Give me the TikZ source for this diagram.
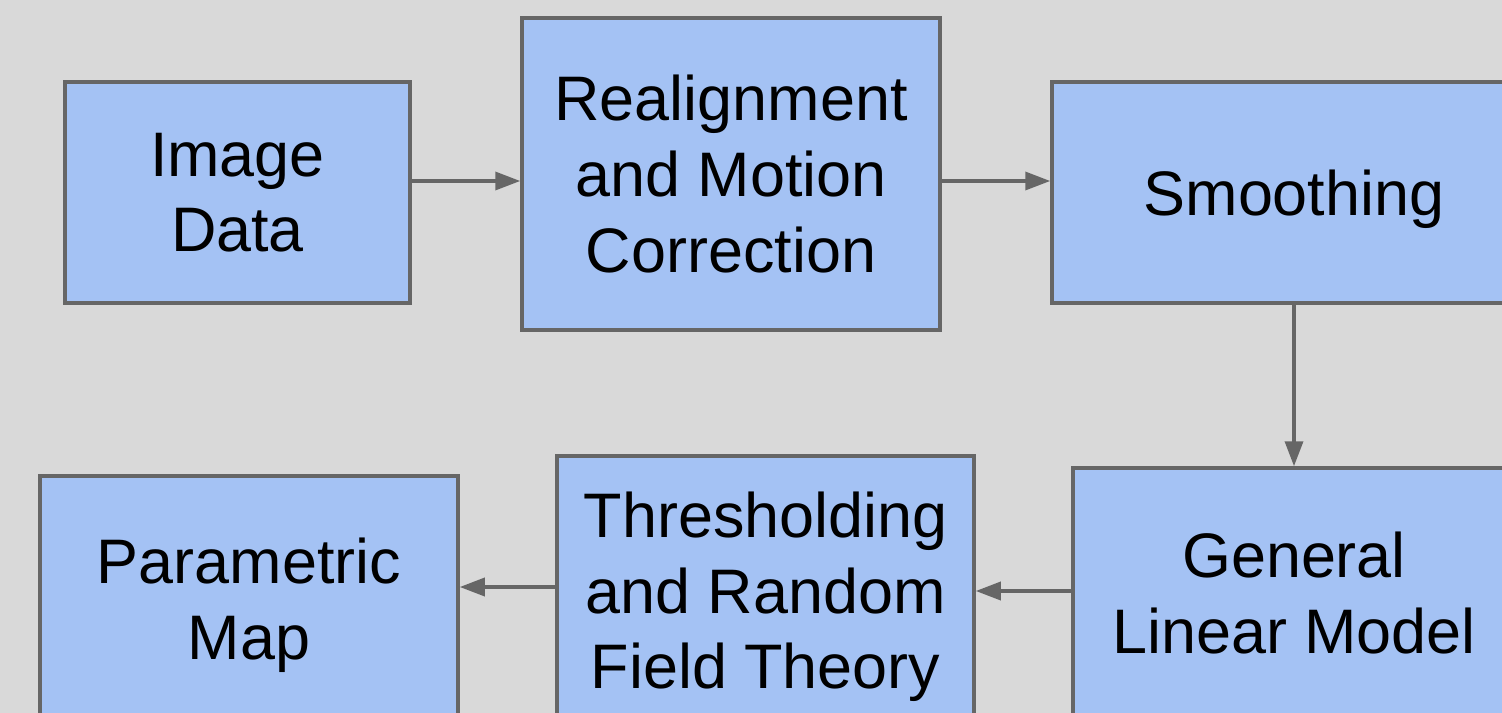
\documentclass[tikz,border=0pt]{standalone}
\usepackage{fontspec}
\setmainfont{Liberation Sans}
\usetikzlibrary{arrows.meta}

\definecolor{panelgray}{HTML}{D9D9D9}
\definecolor{stageblue}{HTML}{A4C2F4}
\definecolor{edgegray}{HTML}{666666}

\tikzset{
    stage box/.style={
        draw=edgegray,line width=2pt,
        fill=stageblue,
        align=center,inner sep=0pt,
        font=\fontsize{35.8}{43}\selectfont
    },
    flow/.style={
        draw=edgegray,line width=2pt,
        -{Triangle[length=0.5cm,width=0.36cm]}
    }
}

\begin{document}
\begin{tikzpicture}[x=0.02cm,y=-0.02cm]
        \fill[panelgray] (0,0) rectangle (1502,713);
        \useasboundingbox (0,0) rectangle (1502,713);
        % top row
        \node[stage box,minimum width=345*0.02cm,minimum height=221*0.02cm] (image) at (237.5,192.5) {Image\\Data};
        \node[stage box,minimum width=418*0.02cm,minimum height=312*0.02cm] (realign) at (731,174) {Realignment\\and Motion\\Correction};
        \node[stage box,minimum width=484*0.02cm,minimum height=221*0.02cm,text depth=0pt] (smooth) at (1294,192.5) {Smoothing};
        % bottom row
        \node[stage box,minimum width=442*0.02cm,minimum height=250*0.02cm] (glm) at (1294,593) {General\\Linear Model};
        \node[stage box,minimum width=417*0.02cm,minimum height=282*0.02cm] (thresh) at (765.5,597) {Thresholding\\and Random\\Field Theory};
        \node[stage box,minimum width=418*0.02cm,minimum height=258*0.02cm] (param) at (249,605) {Parametric\\Map};
        % connectors
        \draw[flow] (image.east |- 0,181) -- (realign.west |- 0,181);
        \draw[flow] (realign.east |- 0,181) -- (smooth.west |- 0,181);
        \draw[flow] (smooth.south) -- (glm.north);
        \draw[flow] (glm.west |- 0,591) -- (thresh.east |- 0,591);
        \draw[flow] (thresh.west |- 0,587) -- (param.east |- 0,587);
\end{tikzpicture}
\end{document}
